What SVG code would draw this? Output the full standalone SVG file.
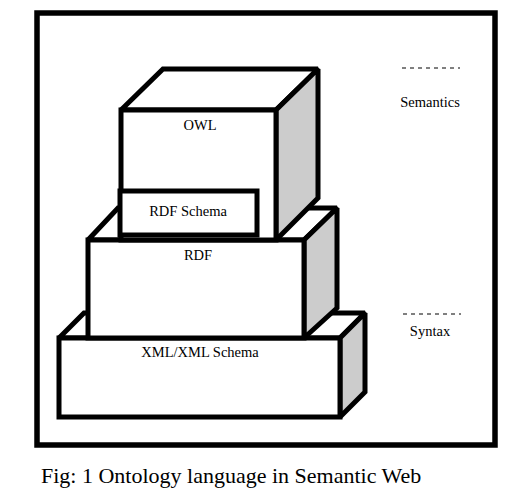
<svg xmlns="http://www.w3.org/2000/svg" width="515" height="497" viewBox="0 0 515 497">
<style>
.f{fill:#fff;stroke:#000;stroke-width:5;stroke-linejoin:miter;stroke-miterlimit:1.5}
.s{fill:#ccc;stroke:#000;stroke-width:5;stroke-linejoin:miter;stroke-miterlimit:1.5}
.t{font-family:"Liberation Serif",serif;font-size:14.5px;fill:#000;text-anchor:middle}
.d{stroke:#000;stroke-width:1;stroke-dasharray:4,4;fill:none}
</style>
<rect x="0" y="0" width="515" height="497" fill="#fff"/>
<rect id="frame" x="37" y="13" width="458" height="432" fill="none" stroke="#000" stroke-width="5.5"/>
<g id="xml">
<polygon class="f" points="59,338 84,313 365,313 340,338"/>
<polygon class="s" points="340,338 365,313 365,392 340,417"/>
<rect class="f" x="59" y="338" width="281" height="79"/>
<text class="t" x="200" y="357">XML/XML Schema</text>
</g>
<g id="rdf">
<polygon class="f" points="88,240 118,208 337,208 304,240"/>
<polygon class="s" points="304,240 337,208 337,308 304,338"/>
<rect class="f" x="88" y="240" width="216" height="98"/>
<text class="t" x="198" y="260">RDF</text>
</g>
<g id="owl">
<polygon class="f" points="121,110 163,69 318,69 276,110"/>
<polygon class="s" points="276,110 318,69 318,198 276,240"/>
<rect class="f" x="121" y="110" width="155" height="130"/>
<text class="t" x="200" y="130">OWL</text>
</g>
<g id="rdfschema">
<rect class="f" x="120" y="191" width="137" height="44"/>
<text class="t" x="188" y="216">RDF Schema</text>
</g>
<g id="connectors">
<line class="d" x1="402" y1="68" x2="460" y2="68"/>
<line class="d" x1="403" y1="314" x2="461" y2="314"/>
</g>
<text class="t" x="430" y="107">Semantics</text>
<text class="t" x="430" y="336">Syntax</text>
<text x="41" y="483" font-family="Liberation Serif,serif" font-size="22" fill="#000">Fig: 1 Ontology language in Semantic Web</text>
</svg>
